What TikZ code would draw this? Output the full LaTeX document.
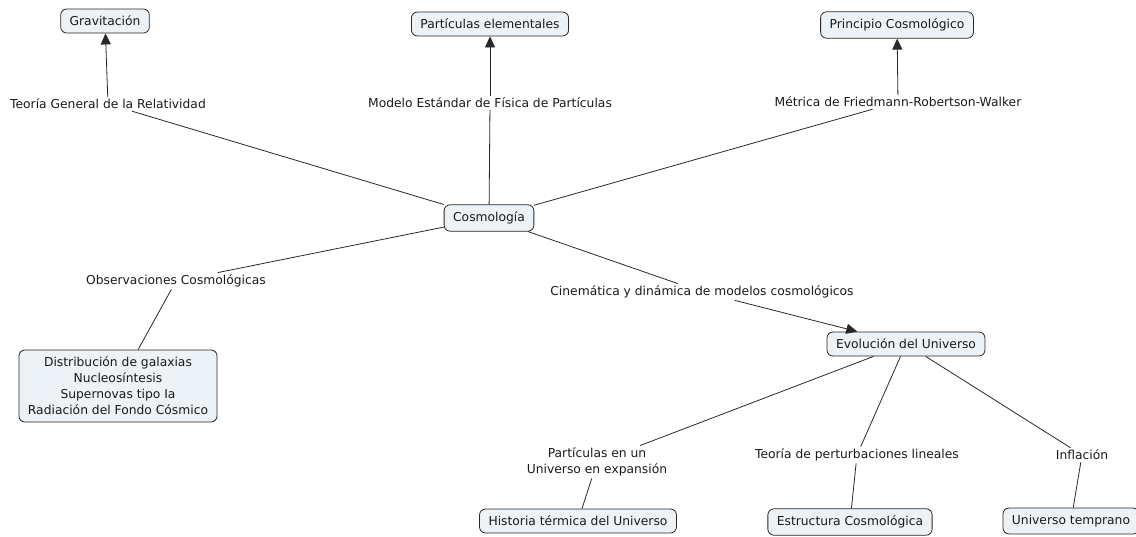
\documentclass[tikz,border=0pt]{standalone}
\usepackage{fontspec}
\setmainfont{DejaVu Sans}
\usetikzlibrary{arrows.meta}
\definecolor{cajafondo}{RGB}{236,242,245}
\definecolor{linea}{RGB}{40,40,40}
\tikzset{
  concepto/.style={draw=linea, fill=cajafondo, rounded corners=6pt, line width=0.8pt,
    inner xsep=9pt, inner ysep=7pt, align=center, text=black!90},
  enlace/.style={inner sep=2pt, align=center, text=black!90},
  union/.style={draw=linea, line width=0.8pt}
}

\begin{document}
\begin{tikzpicture}[x=1pt,y=-1pt,font=\fontsize{12.3}{16}\selectfont,
    >={Triangle[length=11pt,width=10pt]}]
	\useasboundingbox (0,0) rectangle (1136,536);
	% Conceptos
	\node[concepto] (grav) at (105,21) {Gravitación};
	\node[concepto] (part) at (490,24) {Partículas elementales};
	\node[concepto] (prin) at (897,25) {Principio Cosmológico};
	\node[concepto] (cosmo) at (489,218) {Cosmología};
	\node[concepto] (obs) at (118,386) {Distribución de galaxias\\Nucleosíntesis\\Supernovas tipo Ia\\Radiación del Fondo Cósmico};
	\node[concepto] (evol) at (906,344) {Evolución del Universo};
	\node[concepto] (hist) at (578,521) {Historia térmica del Universo};
	\node[concepto] (estr) at (850,522) {Estructura Cosmológica};
	\node[concepto] (temp) at (1071,521) {Universo temprano};
	% Frases de enlace
	\node[enlace] (tgr) at (108,104) {Teoría General de la Relatividad};
	\node[enlace] (mef) at (490,103) {Modelo Estándar de Física de Partículas};
	\node[enlace] (frw) at (898,102) {Métrica de Friedmann-Robertson-Walker};
	\node[enlace] (oc) at (176,281) {Observaciones Cosmológicas};
	\node[enlace] (cin) at (702,292) {Cinemática y dinámica de modelos cosmológicos};
	\node[enlace] (pue) at (597,462) {Partículas en un\\Universo en expansión};
	\node[enlace] (tpl) at (857,455) {Teoría de perturbaciones lineales};
	\node[enlace] (inf) at (1082,455) {Inflación};
	% Lineas
	\draw[union] (cosmo) -- (tgr);
	\draw[union,->] (tgr) -- (grav);
	\draw[union] (cosmo) -- (mef);
	\draw[union,->] (mef) -- (part);
	\draw[union] (cosmo) -- (frw);
	\draw[union,->] (frw) -- (prin);
	\draw[union] (cosmo) -- (oc);
	\draw[union] (oc) -- (obs);
	\draw[union] (cosmo) -- (cin);
	\draw[union,->] (cin) -- (evol);
	\draw[union] (evol) -- (pue);
	\draw[union] (pue) -- (hist);
	\draw[union] (evol) -- (tpl);
	\draw[union] (tpl) -- (estr);
	\draw[union] (evol) -- (inf);
	\draw[union] (inf) -- (temp);
\end{tikzpicture}
\end{document}
